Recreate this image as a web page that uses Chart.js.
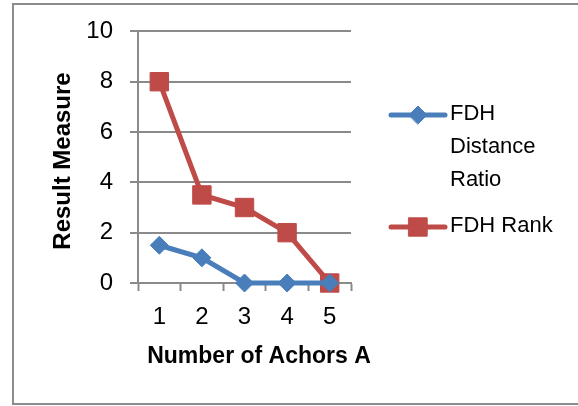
<!DOCTYPE html>
<html>
<head>
<meta charset="utf-8">
<script src="https://cdn.jsdelivr.net/npm/chart.js@4/dist/chart.umd.min.js"></script>
<style>
  html, body { margin: 0; padding: 0; background: #fff; overflow: hidden; }
  canvas { display: block; }
</style>
</head>
<body>
<canvas id="chart" width="578" height="406"></canvas>
<script>
// Data
const categories = ['1', '2', '3', '4', '5'];
const distanceRatio = [1.5, 1, 0, 0, 0];
const rankValues = [8, 3.5, 3, 2, 0];
const yTickValues = [0, 2, 4, 6, 8, 10];
const seriesLabels = ['FDH Distance Ratio', 'FDH Rank'];
const legendLines = [['FDH', 'Distance', 'Ratio'], ['FDH Rank']];
const xTitleText = 'Number of Achors A';
const yTitleText = 'Result Measure';

const FONT = "'Liberation Sans', Arial, sans-serif";
const GRID = '#8a8a8a';
const BLUE = '#4a7ebb';
const RED = '#be4b48';

// Outer frame (left, top and bottom edges; the right edge lies past the canvas)
const framePlugin = {
  id: 'frame',
  beforeDraw(chart) {
    const ctx = chart.ctx;
    ctx.save();
    ctx.fillStyle = '#fff';
    ctx.fillRect(0, 0, chart.width, chart.height);
    ctx.strokeStyle = '#8c8c8c';
    ctx.lineWidth = 2;
    ctx.beginPath();
    ctx.moveTo(chart.width + 5, 4);
    ctx.lineTo(13, 4);
    ctx.lineTo(13, 404);
    ctx.lineTo(chart.width + 5, 404);
    ctx.stroke();
    ctx.restore();
  }
};

// Axis titles
const titlesPlugin = {
  id: 'axisTitles',
  afterDraw(chart) {
    const ctx = chart.ctx;
    ctx.save();
    ctx.fillStyle = '#000';
    ctx.textAlign = 'center';
    ctx.textBaseline = 'middle';
    ctx.font = "bold 23px " + FONT;
    ctx.fillText(xTitleText, 259, 357);
    ctx.translate(63, 161);
    ctx.rotate(-Math.PI / 2);
    ctx.font = "bold 24px " + FONT;
    ctx.fillText(yTitleText, 0, 0);
    ctx.restore();
  }
};

// Legend on the right, with wrapped series names
function drawMarker(ctx, style, x, y, r, color) {
  ctx.fillStyle = color;
  ctx.strokeStyle = color;
  ctx.lineWidth = 1;
  ctx.beginPath();
  if (style === 'rectRot') {
    ctx.moveTo(x - r, y);
    ctx.lineTo(x, y - r);
    ctx.lineTo(x + r, y);
    ctx.lineTo(x, y + r);
  } else {
    const h = Math.SQRT1_2 * r;
    ctx.rect(x - h, y - h, 2 * h, 2 * h);
  }
  ctx.closePath();
  ctx.fill();
  ctx.stroke();
}

const legendPlugin = {
  id: 'sideLegend',
  afterDraw(chart) {
    const ctx = chart.ctx;
    const rowY = [115, 227];
    const lineGap = 33;
    ctx.save();
    chart.data.datasets.forEach((ds, i) => {
      const y = rowY[i];
      ctx.strokeStyle = ds.borderColor;
      ctx.lineWidth = 5;
      ctx.lineCap = 'round';
      ctx.beginPath();
      ctx.moveTo(391, y);
      ctx.lineTo(445, y);
      ctx.stroke();
      drawMarker(ctx, ds.pointStyle, 418, y, ds.pointRadius, ds.backgroundColor);
      ctx.fillStyle = '#000';
      ctx.font = "22px " + FONT;
      ctx.textAlign = 'left';
      ctx.textBaseline = 'middle';
      legendLines[i].forEach((t, k) => {
        ctx.fillText(t, 450, y - 1 + k * lineGap);
      });
    });
    ctx.restore();
  }
};

new Chart(document.getElementById('chart'), {
  type: 'line',
  data: {
    labels: categories,
    datasets: [
      {
        label: seriesLabels[0],
        data: distanceRatio,
        borderColor: BLUE,
        backgroundColor: BLUE,
        borderWidth: 5,
        pointStyle: 'rectRot',
        pointRadius: 9,
        pointBorderWidth: 1,
        tension: 0
      },
      {
        label: seriesLabels[1],
        data: rankValues,
        borderColor: RED,
        backgroundColor: RED,
        borderWidth: 5,
        pointStyle: 'rect',
        pointRadius: 13,
        pointBorderWidth: 1,
        tension: 0
      }
    ]
  },
  options: {
    responsive: false,
    animation: false,
    devicePixelRatio: 1,
    clip: false,
    layout: { padding: { left: 0, top: 31, right: 227, bottom: 0 } },
    plugins: {
      legend: { display: false },
      tooltip: { enabled: false }
    },
    scales: {
      x: {
        offset: true,
        afterFit(scale) { scale.height = 123; },
        grid: {
          offset: true,
          drawOnChartArea: false,
          drawTicks: true,
          tickLength: 8,
          tickWidth: 2,
          tickColor: GRID
        },
        border: { display: true, color: GRID, width: 2 },
        ticks: {
          color: '#000',
          padding: 12,
          font: { family: FONT, size: 24 }
        }
      },
      y: {
        min: 0,
        max: 10,
        afterFit(scale) { scale.width = 138; },
        afterBuildTicks(scale) {
          scale.ticks = yTickValues.map(v => ({ value: v }));
        },
        grid: {
          color: GRID,
          lineWidth: 2,
          drawTicks: true,
          tickLength: 8
        },
        border: { display: true, color: GRID, width: 2 },
        ticks: {
          color: '#000',
          padding: 17,
          font: { family: FONT, size: 24 }
        }
      }
    }
  },
  plugins: [framePlugin, titlesPlugin, legendPlugin]
});
</script>
</body>
</html>
